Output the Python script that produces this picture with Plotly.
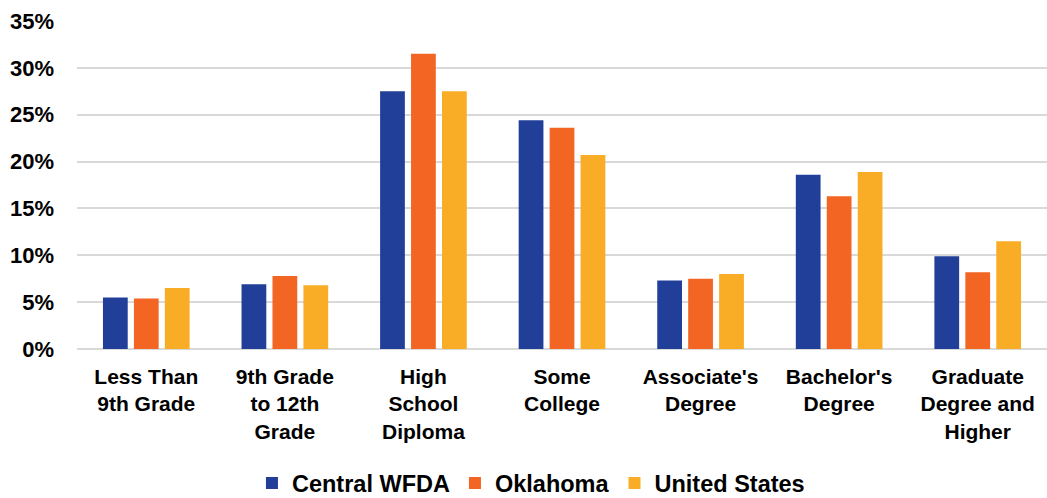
import plotly.graph_objects as go

categories = [
    "Less Than<br>9th Grade",
    "9th Grade<br>to 12th<br>Grade",
    "High<br>School<br>Diploma",
    "Some<br>College",
    "Associate's<br>Degree",
    "Bachelor's<br>Degree",
    "Graduate<br>Degree and<br>Higher",
]

central_wfda = [5.5, 6.9, 27.5, 24.4, 7.3, 18.6, 9.9]
oklahoma = [5.4, 7.8, 31.5, 23.6, 7.5, 16.3, 8.2]
united_states = [6.5, 6.8, 27.5, 20.7, 8.0, 18.9, 11.5]

series = [
    ("Central WFDA", central_wfda, "#213F99"),
    ("Oklahoma", oklahoma, "#F26522"),
    ("United States", united_states, "#F9AC25"),
]

font_family = "Liberation Sans, Arial, sans-serif"

fig = go.Figure()
for name, vals, color in series:
    fig.add_trace(go.Bar(
        x=categories, y=vals, name=name,
        marker=dict(color=color, line=dict(width=0)),
    ))

fig.update_layout(
    width=1047, height=498,
    margin=dict(l=77, r=0, t=21, b=149, autoexpand=False),
    paper_bgcolor="white", plot_bgcolor="white",
    barmode="group", bargap=0.33, bargroupgap=0.2,
    showlegend=True,
    legend=dict(
        orientation="h", x=0.468, xanchor="center", y=-0.409, yanchor="middle",
        font=dict(family=font_family, size=23.5, color="black", weight="bold"),
        tracegroupgap=0,
    ),
    xaxis=dict(
        tickfont=dict(family=font_family, size=21, color="black", weight="bold"),
        showgrid=False, showline=False, ticks="", automargin=False,
        ticklabelstandoff=13,
    ),
    yaxis=dict(
        range=[0, 35], dtick=5, ticksuffix="%",
        tickfont=dict(family=font_family, size=22, color="black", weight="bold"),
        showgrid=True, gridcolor="#D9D9D9", gridwidth=2,
        zeroline=True, zerolinecolor="#D9D9D9", zerolinewidth=2,
        showline=False, ticks="", ticklabelstandoff=22, automargin=False,
    ),
)

fig.write_html("out.html")
